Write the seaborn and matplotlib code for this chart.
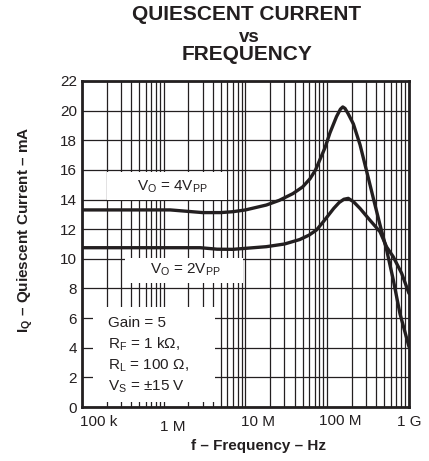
import matplotlib
matplotlib.use('Agg')
import matplotlib.pyplot as plt
from matplotlib.patches import Rectangle
from matplotlib.transforms import ScaledTranslation
import seaborn as sns
import pandas as pd

# Curva V_O = 4 Vpp
freq_4vpp = [1e5, 5e5, 1.2e6, 2e6, 3e6, 5e6, 7e6, 1e7, 1.8e7, 2.6e7, 3.8e7, 5e7, 6.15e7,
             7.2e7, 8.15e7, 9.4e7, 1.08e8, 1.3e8, 1.45e8, 1.55e8, 1.65e8, 1.8e8, 2.09e8,
             2.52e8, 3.04e8, 3.66e8, 4.42e8, 5.33e8, 6.42e8, 7.76e8, 1e9]
iq_4vpp = [13.3, 13.3, 13.3, 13.2, 13.12, 13.12, 13.18, 13.3, 13.63, 13.95, 14.4, 14.85, 15.4,
           16.0, 16.7, 17.5, 18.5, 19.6, 20.1, 20.25, 20.15, 19.8, 19.1,
           17.7, 15.9, 14.1, 12.3, 10.6, 8.6, 6.3, 4.07]

# Curva V_O = 2 Vpp
freq_2vpp = [1e5, 1e6, 2.8e6, 4.5e6, 7e6, 1.8e7, 3e7, 4.6e7, 6e7, 7.4e7, 8.8e7, 1.02e8,
             1.2e8, 1.4e8, 1.6e8, 1.81e8, 2.1e8, 2.52e8, 3.34e8, 4.42e8, 5.33e8, 6.42e8,
             8.14e8, 1e9]
iq_2vpp = [10.75, 10.75, 10.75, 10.65, 10.64, 10.82, 11.0, 11.3, 11.6, 11.95, 12.45, 12.9,
           13.4, 13.8, 14.02, 14.08, 13.85, 13.4, 12.6, 11.83, 10.8, 10.14,
           9.02, 7.67]

x_ticks = [1e5, 1e6, 1e7, 1e8, 1e9]
x_labels = ['100 k', '1 M', '10 M', '100 M', '1 G']
y_ticks = list(range(0, 23, 2))

df = pd.concat([
    pd.DataFrame({'f': freq_4vpp, 'iq': iq_4vpp, 'curva': '4Vpp'}),
    pd.DataFrame({'f': freq_2vpp, 'iq': iq_2vpp, 'curva': '2Vpp'}),
])

sns.set_style('white')
plt.rcParams['font.family'] = ['Liberation Sans', 'DejaVu Sans']
plt.rcParams['mathtext.fontset'] = 'custom'
plt.rcParams['mathtext.rm'] = 'Liberation Sans'
plt.rcParams['mathtext.bf'] = 'Liberation Sans:bold'

ink = '#231f20'
fig = plt.figure(figsize=(4.29, 4.61), dpi=100)
ax = fig.add_axes([0.1911, 0.1171, 0.7622, 0.7072])

sns.lineplot(data=df, x='f', y='iq', hue='curva', palette=[ink, ink], legend=False,
             linewidth=2.4, ax=ax, zorder=3, sort=False)
for ln in ax.get_lines():
    ln.set_solid_joinstyle('round')
    ln.set_solid_capstyle('round')

ax.set_xscale('log')
ax.set_xlim(1e5, 1e9)
ax.set_ylim(0, 22)
ax.set_yticks(y_ticks)
ax.set_xticks(x_ticks, x_labels)
ax.set_xlabel('')
ax.set_ylabel('')
ax.tick_params(axis='both', which='both', length=0, labelsize=11, colors=ink)
ax.tick_params(axis='x', pad=6)
ax.tick_params(axis='y', pad=3.6)

# Grade
ax.set_axisbelow(True)
ax.grid(which='major', axis='both', color=ink, linewidth=0.9)
ax.grid(which='minor', axis='x', color=ink, linewidth=0.9)
for s in ax.spines.values():
    s.set_linewidth(2)
    s.set_color(ink)
    s.set_zorder(5)

# Deslocamento dos rótulos do eixo x
shifts = [(0.17, 0), (0.095, -0.05), (0.13, 0), (0.13, 0.01), (0.0, 0)]
for lab, (dx, dy) in zip(ax.get_xticklabels(), shifts):
    lab.set_transform(lab.get_transform() + ScaledTranslation(dx, dy, fig.dpi_scale_trans))

# Caixas brancas atrás das anotações
for (x0, y0, w, h) in [(0.0765, 0.635, 0.367, 0.086),
                       (0.1315, 0.380, 0.361, 0.077),
                       (0.0336, 0.0153, 0.373, 0.291)]:
    ax.add_patch(Rectangle((x0, y0), w, h, transform=ax.transAxes,
                           facecolor='white', edgecolor='none', zorder=1))

tk = dict(transform=ax.transAxes, fontsize=11, color=ink, va='baseline', ha='left', zorder=4)
ax.text(0.168, 0.6635, r'V$_\mathrm{O}$ = 4V$_\mathrm{PP}$', **tk)
ax.text(0.208, 0.410, r'V$_\mathrm{O}$ = 2V$_\mathrm{PP}$', **tk)
ax.text(0.0795, 0.2445, 'Gain = 5', **tk)
ax.text(0.0795, 0.180, r'R$_\mathrm{F}$ = 1 kΩ,', **tk)
ax.text(0.0795, 0.116, r'R$_\mathrm{L}$ = 100 Ω,', **tk)
ax.text(0.0795, 0.0525, r'V$_\mathrm{S}$ = ±15 V', **tk)

# Títulos
fig.text(0.5758, 0.9675, 'QUIESCENT CURRENT', ha='center', va='center',
         fontsize=15, fontweight='bold', color=ink)
fig.text(0.5804, 0.9197, 'vs', ha='center', va='center',
         fontsize=13.5, fontweight='bold', color=ink)
fig.text(0.5769, 0.8807, 'FREQUENCY', ha='center', va='center',
         fontsize=15, fontweight='bold', color=ink)
fig.text(0.6014, 0.0325, 'f – Frequency – Hz', ha='center', va='center',
         fontsize=11, fontweight='bold', color=ink)
fig.text(0.0583, 0.501, r'I$_\mathbf{Q}$ – Quiescent Current – mA', rotation=90,
         ha='center', va='center', fontsize=11, fontweight='bold', color=ink)

fig.savefig('out.png', dpi=100)
